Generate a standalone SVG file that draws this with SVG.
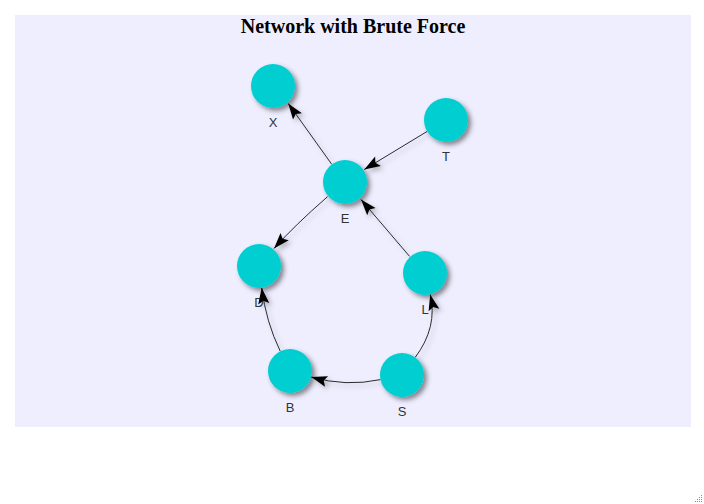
<svg xmlns="http://www.w3.org/2000/svg" width="704" height="504" viewBox="0 0 704 504">
<style>
.bg{fill:#eeeeff}
.title{font-family:"Liberation Serif","Times New Roman",serif;font-weight:bold;font-size:20px;fill:#000;text-anchor:middle}
.node circle{fill:#00ced1}
.node text{font-family:"Liberation Sans",Arial,sans-serif;font-size:13px;fill:#343434;text-anchor:middle}
.edge{fill:none;stroke:#2b2b2b;stroke-width:1}
.arrowed{marker-end:url(#arr)}
.head{fill:#000}
.grip{fill:#8a8a8a}
</style>
<defs>
<filter id="sh" x="-50%" y="-50%" width="200%" height="200%">
<feDropShadow dx="3" dy="3" stdDeviation="2.5" flood-color="#000" flood-opacity="0.45"/>
</filter>
<filter id="esh" x="-50%" y="-50%" width="200%" height="200%">
<feDropShadow dx="3" dy="3" stdDeviation="2.5" flood-color="#000" flood-opacity="0.25"/>
</filter>
<marker id="arr" markerUnits="userSpaceOnUse" viewBox="-17 -7 18 14" markerWidth="18" markerHeight="14" refX="0" refY="0" orient="auto">
<path d="M0,0 L-16,-5.5 L-13,0 L-16,5.5 Z" fill="#000"/>
</marker>
</defs>
<rect class="bg" x="15" y="15" width="676" height="412"/>
<text class="title" x="353" y="33">Network with Brute Force</text>
<g id="edges" filter="url(#esh)">
<path id="e-E-X" class="edge arrowed" d="M331.8,164.4 L288.2,103.4"/>
<path id="e-T-E" class="edge arrowed" d="M427,131.5 L364.3,169.5"/>
<path id="e-E-D" class="edge arrowed" d="M327.6,196.6 Q294,226 274,248.5"/>
<path id="e-L-E" class="edge arrowed" d="M409.5,256.3 L361,199.5"/>
<path id="e-S-L" class="edge" d="M415.2,357.4 Q438,327 430.2,294.4"/>
<path id="e-S-B" class="edge arrowed" d="M380.5,379.6 Q346,387 311.2,377"/>
<path id="e-B-D" class="edge" d="M280.3,351.3 Q266,322 261.7,287.8"/>
</g>
<g id="node-X" class="node"><circle cx="273" cy="86" r="22" filter="url(#sh)"/><text x="273" y="127">X</text></g>
<g id="node-T" class="node"><circle cx="446" cy="120" r="22" filter="url(#sh)"/><text x="446" y="161">T</text></g>
<g id="node-E" class="node"><circle cx="345" cy="182" r="22" filter="url(#sh)"/><text x="345" y="223">E</text></g>
<g id="node-D" class="node"><circle cx="259" cy="266" r="22" filter="url(#sh)"/><text x="259" y="307">D</text></g>
<g id="node-L" class="node"><circle cx="425" cy="273" r="22" filter="url(#sh)"/><text x="425" y="314">L</text></g>
<g id="node-B" class="node"><circle cx="290" cy="371" r="22" filter="url(#sh)"/><text x="290" y="412">B</text></g>
<g id="node-S" class="node"><circle cx="402" cy="375" r="22" filter="url(#sh)"/><text x="402" y="416">S</text></g>
<g id="arrowheads-over-labels" filter="url(#esh)">
<path class="head" d="M261.7,287.8 L258.2,304.4 L263.3,300.7 L269.2,303.0 Z"/>
<path class="head" d="M430.2,294.4 L428.6,311.3 L433.2,307.0 L439.3,308.7 Z"/>
</g>
<g id="resize-grip">
<rect class="grip" x="701" y="495" width="1" height="1"/>
<rect class="grip" x="699" y="497" width="1" height="1"/>
<rect class="grip" x="701" y="497" width="1" height="1"/>
<rect class="grip" x="697" y="499" width="1" height="1"/>
<rect class="grip" x="699" y="499" width="1" height="1"/>
<rect class="grip" x="701" y="499" width="1" height="1"/>
<rect class="grip" x="695" y="501" width="1" height="1"/>
<rect class="grip" x="697" y="501" width="1" height="1"/>
<rect class="grip" x="699" y="501" width="1" height="1"/>
<rect class="grip" x="701" y="501" width="1" height="1"/>
</g>
</svg>
